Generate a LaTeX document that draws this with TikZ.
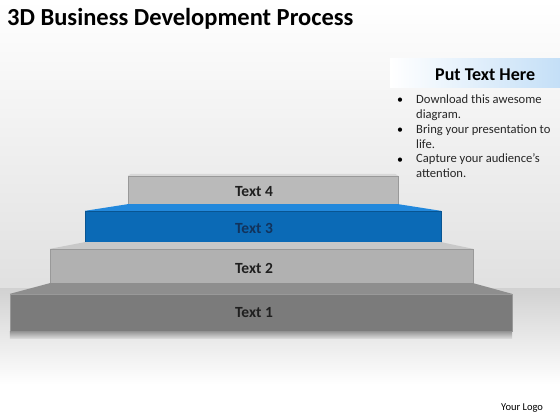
\documentclass[tikz,border=0pt]{standalone}
\usepackage{fontspec}
\setmainfont{Carlito}
\usepackage{xcolor}

\definecolor{oneface}{HTML}{7B7B7B}
\definecolor{onetop}{HTML}{8E8E8E}
\definecolor{twoface}{HTML}{B1B1B1}
\definecolor{twotop}{HTML}{C8C8C8}
\definecolor{threeface}{HTML}{0B6AB6}
\definecolor{threetop}{HTML}{2288DC}
\definecolor{fourface}{HTML}{BABABA}
\definecolor{fourtop}{HTML}{D8D8D8}
\definecolor{headblue}{HTML}{C4DFF7}
\definecolor{navy}{HTML}{12335C}

\begin{document}
\begin{tikzpicture}[x=1pt,y=-1pt,
        front/.style={rectangle,inner sep=0pt,draw=black!40,line width=0.3pt},
        steplabel/.style={font=\bfseries\fontsize{15.5}{18}\selectfont,text=black!88},
        item/.style={anchor=base west,inner sep=0pt,align=left,font=\fontsize{12.6}{14.8}\selectfont,text=black!85},
        dot/.style={anchor=base,inner sep=0pt,font=\fontsize{12}{14}\selectfont}]
        \useasboundingbox (0,0) rectangle (560,420);

        % Background and floor.
        \shade[top color=white,bottom color=black!12] (0,0) rectangle (560,288);
        \shade[top color=black!18,bottom color=white] (0,288) rectangle (560,385);
        \fill[white] (0,385) rectangle (560,420);

        % Title.
        \node[anchor=base west,inner sep=0pt,font=\bfseries\fontsize{24.5}{28}\selectfont] (title) at (7,26) {3D Business Development Process};

        % Steps.
        \node[front,fill=oneface,minimum width=502pt,minimum height=37pt] (s1) at (261,312.5) {};
        \node[front,fill=twoface,minimum width=423pt,minimum height=34pt] (s2) at (261.5,266) {};
        \node[front,fill=threeface,draw=threeface!80!black,minimum width=356pt,minimum height=31pt] (s3) at (263,226.5) {};
        \node[front,fill=fourface,minimum width=270pt,minimum height=28pt] (s4) at (263,190) {};
        \shade[top color=black!42,bottom color=black!15] (s1.south west) rectangle ([yshift=-7pt]s1.south east);

        % Top faces.
        \fill[onetop] (s1.north west) -- (s2.south west) -- (s2.south east) -- (s1.north east) -- cycle;
        \fill[twotop] (s2.north west) -- (s3.south west) -- (s3.south east) -- (s2.north east) -- cycle;
        \fill[threetop] (s3.north west) -- (s4.south west) -- (s4.south east) -- (s3.north east) -- cycle;
        \fill[fourtop] (s4.north west) -- ([shift={(3pt,2pt)}]s4.north west) -- ([shift={(-3pt,2pt)}]s4.north east) -- (s4.north east) -- cycle;

        % Step texts.
        \node[steplabel] (t1) at (254,313) {Text 1};
        \node[steplabel] (t2) at (254,268) {Text 2};
        \node[steplabel,text=navy] (t3) at (254,228) {Text 3};
        \node[steplabel] (t4) at (254,192) {Text 4};

        % Text box.
        \shade[left color=white,right color=headblue] (390,59) rectangle (560,88);
        \node[anchor=base west,inner sep=0pt,font=\bfseries\fontsize{18}{20}\selectfont] (head) at (435,81) {Put Text Here};
        \node[item] (i1) at (416,118) {Download this awesome\\diagram.};
        \node[item] (i2) at (416,148) {Bring your presentation to\\life.};
        \node[item] (i3) at (416,177.6) {Capture your audience’s\\attention.};
        \node[dot] (d1) at (400,103) {\textbullet};
        \node[dot] (d2) at (400,133) {\textbullet};
        \node[dot] (d3) at (400,163) {\textbullet};

        % Logo.
        \node[anchor=base west,inner sep=0pt,font=\fontsize{10.5}{12}\selectfont] (logo) at (501,410) {Your Logo};
    \end{tikzpicture}
\end{document}
